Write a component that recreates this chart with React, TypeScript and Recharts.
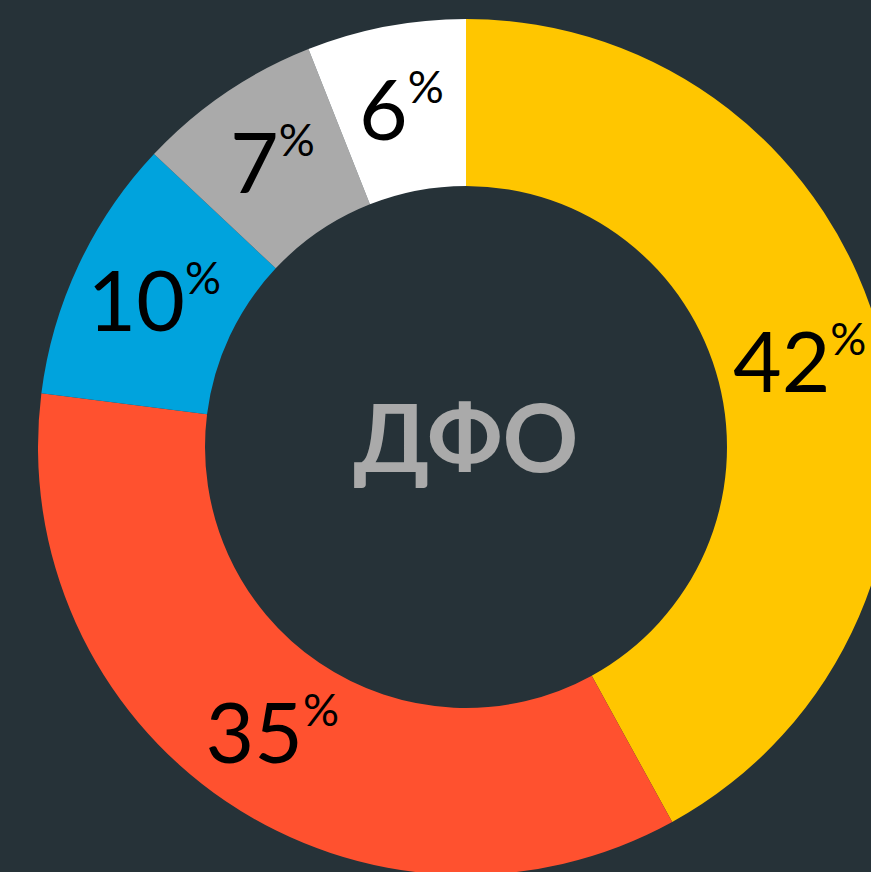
import { PieChart, Pie, Cell } from 'recharts';

const regions = ['A', 'B', 'C', 'D', 'E'];
const shares = [42, 35, 10, 7, 6];
const COLORS = ['#FFC600', '#FF512F', '#00A3DD', '#AAAAAA', '#FFFFFF'];

const data = regions.map((name, i) => ({ name, value: shares[i] }));

const RADIAN = Math.PI / 180;

const renderLabel = (props: any) => {
  const { cx, cy, midAngle, innerRadius, outerRadius, value } = props;
  const r = (innerRadius + outerRadius) / 2;
  const x = cx + r * Math.cos(-midAngle * RADIAN);
  const y = cy + r * Math.sin(-midAngle * RADIAN);
  return (
    <text
      x={x}
      y={y + 31}
      textAnchor="middle"
      fill="#000"
      fontFamily="Lato, sans-serif"
      fontSize={84}
    >
      {value}
      <tspan fontSize={45} dy={-37}>%</tspan>
    </text>
  );
};

export default function App() {
  return (
    <div style={{ position: 'fixed', left: 0, top: 0, width: 871, height: 872, background: '#263238', overflow: 'hidden' }}>
      <PieChart width={871} height={872} margin={{ top: 0, right: 0, bottom: 0, left: 0 }}>
        <Pie
          data={data}
          dataKey="value"
          cx={466}
          cy={447}
          innerRadius={261}
          outerRadius={428}
          startAngle={90}
          endAngle={-270}
          stroke="none"
          label={renderLabel}
          labelLine={false}
          isAnimationActive={false}
        >
          {data.map((d, i) => (
            <Cell key={d.name} fill={COLORS[i]} />
          ))}
        </Pie>
        <text
          x={466}
          y={447}
          dy={25}
          textAnchor="middle"
          fill="#AAAAAA"
          fontFamily="Lato, sans-serif"
          fontWeight={700}
          fontSize={94}
        >
          ДФО
        </text>
      </PieChart>
    </div>
  );
}
